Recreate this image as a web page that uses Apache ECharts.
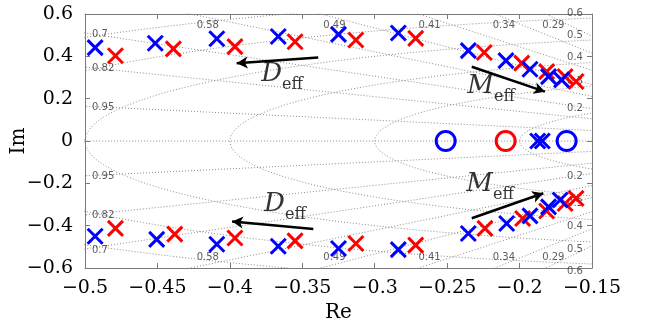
<!DOCTYPE html>
<html>
<head>
<meta charset="utf-8">
<script src="https://cdn.jsdelivr.net/npm/echarts@6/dist/echarts.min.js"></script>
<style>html,body{margin:0;padding:0;background:#fff;}#c{width:645px;height:330px;}</style>
</head>
<body>
<div id="c"></div>
<script>
// ---- data ----
const xTicks = [-0.5, -0.45, -0.4, -0.35, -0.3, -0.25, -0.2, -0.15];
const yTicks = [-0.6, -0.4, -0.2, 0, 0.2, 0.4, 0.6];

const bluePoleRe = [-0.493, -0.4515, -0.409, -0.3666, -0.325, -0.2837, -0.2354, -0.2094, -0.1928, -0.180, -0.171,
                    -0.493, -0.4505, -0.409, -0.3666, -0.325, -0.2837, -0.2354, -0.2089, -0.1928, -0.180, -0.172,
                    -0.1875, -0.1843];
const bluePoleIm = [0.441, 0.462, 0.483, 0.494, 0.504, 0.510, 0.427, 0.380, 0.339, 0.304, 0.289,
                    -0.450, -0.465, -0.488, -0.497, -0.508, -0.513, -0.437, -0.390, -0.354, -0.311, -0.279,
                    0, 0];
const redPoleRe = [-0.479, -0.439, -0.3965, -0.355, -0.313, -0.2717, -0.2244, -0.1985, -0.1813, -0.1686, -0.161,
                   -0.479, -0.438, -0.3965, -0.355, -0.313, -0.2717, -0.2239, -0.1979, -0.1813, -0.1686, -0.161];
const redPoleIm = [0.403, 0.435, 0.446, 0.469, 0.477, 0.485, 0.418, 0.368, 0.328, 0.304, 0.281,
                   -0.413, -0.440, -0.458, -0.472, -0.484, -0.492, -0.413, -0.366, -0.331, -0.295, -0.271];
const blueZeroRe = [-0.251, -0.1675];
const blueZeroIm = [0, 0];
const redZeroRe = [-0.2096];
const redZeroIm = [0];

// grid (damping ratio / natural frequency) values
const zetaValues = [0.95, 0.82, 0.7, 0.58, 0.49, 0.41, 0.34, 0.29];
const wnValues = [0.2, 0.3, 0.4, 0.5, 0.6, 0.7];

// annotation arrows and label anchors
const arrowStartRe = [-0.339, -0.3424, -0.233, -0.233];
const arrowStartIm = [0.394, -0.4157, 0.351, -0.365];
const arrowEndRe = [-0.3953, -0.3985, -0.1825, -0.1836];
const arrowEndIm = [0.367, -0.380, 0.233, -0.247];
const annoText = ['D', 'D', 'M', 'M'];
const annoRe = [-0.364, -0.362, -0.2197, -0.2204];
const annoIm = [0.298, -0.317, 0.241, -0.2225];

// ---- build ----
const X0 = -0.5, X1 = -0.15, Y0 = -0.6, Y1 = 0.6;
const zip = (a, b) => a.map((v, i) => [v, b[i]]);
const fmt = v => String(+(+v).toFixed(2)).replace('-', '\u2212');
const serif = 'DejaVu Serif';
const gridLine = { color: '#8c8c8c', width: 1, type: [1, 2] };

const series = [];
series.push({ type: 'line', data: [[-2, 0], [0, 0]], showSymbol: false, silent: true, lineStyle: gridLine, z: 1, clip: true });
zetaValues.forEach(z => {
  const s = Math.sqrt(1 - z * z);
  [1, -1].forEach(sg => {
    series.push({ type: 'line', data: [[0, 0], [-2 * z, sg * 2 * s]], showSymbol: false, silent: true, lineStyle: gridLine, z: 1, clip: true });
  });
});
wnValues.forEach(w => {
  const pts = [];
  for (let a = 90; a <= 270; a += 1) {
    const t = a * Math.PI / 180;
    pts.push([w * Math.cos(t), w * Math.sin(t)]);
  }
  series.push({ type: 'line', data: pts, showSymbol: false, silent: true, lineStyle: gridLine, z: 1, clip: true });
});

// grid labels
const gridLabels = [];
zetaValues.forEach(z => {
  const slope = Math.sqrt(1 - z * z) / z;
  const yAtLeft = -X0 * slope;
  const txt = String(z);
  if (yAtLeft <= Y1) {
    [1, -1].forEach(sg => gridLabels.push({ value: [X0, sg * yAtLeft], label: { formatter: txt, align: 'left', verticalAlign: 'middle', offset: [7, 1] } }));
  } else {
    const xi = -Y1 / slope;
    [1, -1].forEach(sg => gridLabels.push({ value: [0.972 * xi, sg * 0.972 * Y1], label: { formatter: txt, align: 'center', verticalAlign: 'middle', offset: [0, sg > 0 ? 8 : -7] } }));
  }
});
wnValues.forEach(w => {
  if (w <= -X1) return;
  const yi = Math.sqrt(w * w - X1 * X1);
  if (yi > Y1) return;
  [1, -1].forEach(sg => gridLabels.push({ value: [X1, sg * yi], label: { formatter: String(w), align: 'center', verticalAlign: 'middle', offset: [-17, sg > 0 ? -5 : 7] } }));
});
series.push({
  type: 'scatter', data: gridLabels, symbolSize: 0, silent: true, z: 2,
  label: { show: true, position: 'inside', color: '#333', fontSize: 10, fontFamily: 'DejaVu Sans' }
});

function crossSeries(re, im, color, z) {
  return {
    type: 'custom', data: zip(re, im), z: z, silent: true,
    encode: { x: 0, y: 1 },
    renderItem: (params, api) => {
      const p = api.coord([api.value(0), api.value(1)]);
      const h = 7.5;
      const st = { stroke: color, lineWidth: 3, lineCap: 'butt' };
      return { type: 'group', children: [
        { type: 'line', shape: { x1: p[0] - h, y1: p[1] - h, x2: p[0] + h, y2: p[1] + h }, style: st },
        { type: 'line', shape: { x1: p[0] - h, y1: p[1] + h, x2: p[0] + h, y2: p[1] - h }, style: st }
      ] };
    }
  };
}
series.push(crossSeries(redPoleRe, redPoleIm, '#ff0000', 5));
series.push(crossSeries(bluePoleRe, bluePoleIm, '#0000ff', 6));

function zeroSeries(re, im, color) {
  return {
    type: 'scatter', data: zip(re, im), symbol: 'circle', symbolSize: 19, z: 6, silent: true,
    itemStyle: { color: 'rgba(0,0,0,0)', borderColor: color, borderWidth: 3, opacity: 1 }
  };
}
series.push(zeroSeries(blueZeroRe, blueZeroIm, '#0000ff'));
series.push(zeroSeries(redZeroRe, redZeroIm, '#ff0000'));

series.push({
  type: 'line', data: [], silent: true,
  markLine: {
    silent: true, animation: false,
    symbol: ['none', 'arrow'], symbolSize: [9, 11],
    label: { show: false },
    lineStyle: { color: '#000', width: 2.5, type: 'solid', opacity: 1 },
    data: arrowStartRe.map((v, i) => [{ coord: [v, arrowStartIm[i]] }, { coord: [arrowEndRe[i], arrowEndIm[i]] }])
  }
});
series.push({
  type: 'scatter', symbolSize: 0, silent: true, z: 7,
  data: annoRe.map((v, i) => ({ value: [v, annoIm[i]], name: annoText[i] })),
  label: {
    show: true, position: 'inside', align: 'center', verticalAlign: 'middle',
    formatter: p => '{i|' + p.name + '}{s|eff}',
    rich: {
      i: { fontFamily: serif, fontStyle: 'italic', fontSize: 26, color: '#000', lineHeight: 30, verticalAlign: 'bottom', padding: [0, 0, 6, 0] },
      s: { fontFamily: serif, fontSize: 16, color: '#000', lineHeight: 18, verticalAlign: 'bottom' }
    }
  }
});

const axisLineStyle = { color: '#7a7a7a', width: 1 };
const option = {
  animation: false,
  backgroundColor: '#fff',
  textStyle: { fontFamily: serif },
  grid: { left: 85, right: 53, top: 14, bottom: 62, containLabel: false, outerBoundsMode: 'none' },
  xAxis: [
    { type: 'value', min: X0, max: X1, interval: 0.05, position: 'bottom',
      axisLine: { show: true, onZero: false, lineStyle: axisLineStyle },
      axisTick: { show: true, inside: true, length: 5, lineStyle: axisLineStyle },
      axisLabel: { show: true, color: '#000', fontFamily: serif, fontSize: 19, margin: 11, formatter: fmt, showMinLabel: true, showMaxLabel: true },
      splitLine: { show: false },
      name: 'Re', nameLocation: 'middle', nameGap: 35, nameMoveOverlap: false,
      nameTextStyle: { color: '#000', fontFamily: serif, fontSize: 20 } },
    { type: 'value', min: X0, max: X1, interval: 0.05, position: 'top',
      axisLine: { show: true, onZero: false, lineStyle: axisLineStyle },
      axisTick: { show: true, inside: true, length: 5, lineStyle: axisLineStyle },
      axisLabel: { show: false }, splitLine: { show: false } }
  ],
  yAxis: [
    { type: 'value', min: Y0, max: Y1, interval: 0.2, position: 'left',
      axisLine: { show: true, onZero: false, lineStyle: axisLineStyle },
      axisTick: { show: true, inside: true, length: 5, lineStyle: axisLineStyle },
      axisLabel: { show: true, color: '#000', fontFamily: serif, fontSize: 19, margin: 12, formatter: fmt },
      splitLine: { show: false },
      name: 'Im', nameLocation: 'middle', nameGap: 56, nameRotate: 90, nameMoveOverlap: false,
      nameTextStyle: { color: '#000', fontFamily: serif, fontSize: 20 } },
    { type: 'value', min: Y0, max: Y1, interval: 0.2, position: 'right',
      axisLine: { show: true, onZero: false, lineStyle: axisLineStyle },
      axisTick: { show: true, inside: true, length: 5, lineStyle: axisLineStyle },
      axisLabel: { show: false }, splitLine: { show: false } }
  ],
  series: series
};
const chart = echarts.init(document.getElementById('c'), null, { renderer: 'canvas' });
chart.setOption(option);
</script>
</body>
</html>
